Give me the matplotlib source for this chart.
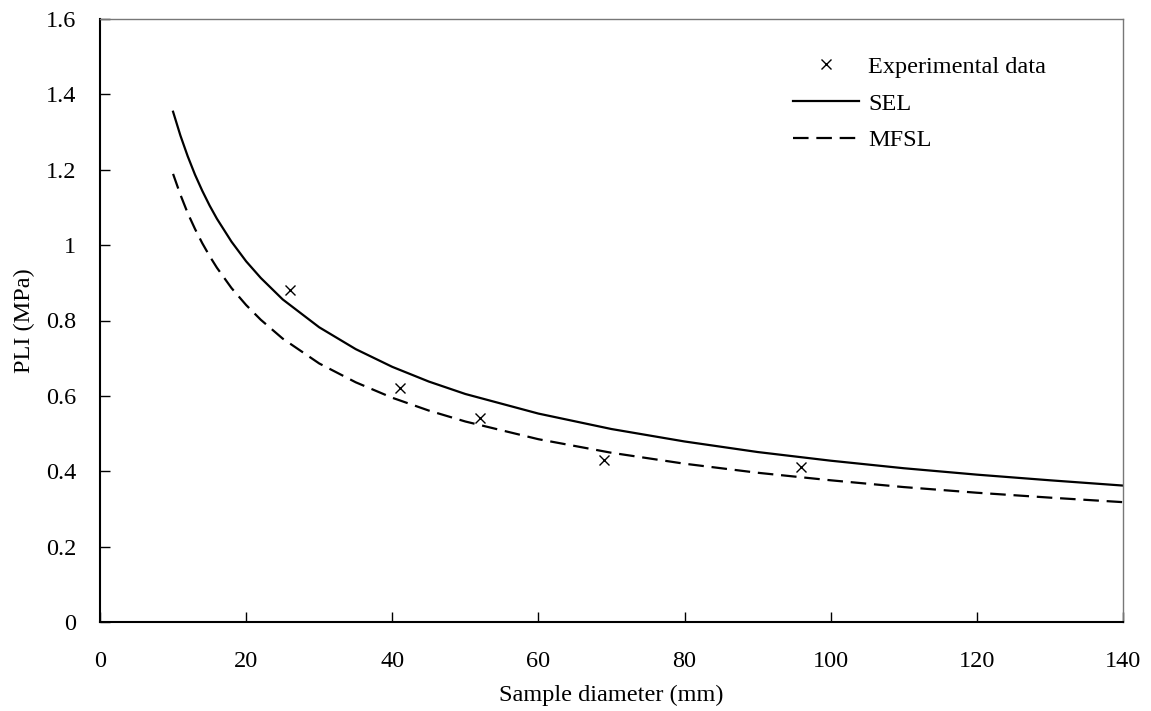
import matplotlib
matplotlib.use("Agg")
import matplotlib.pyplot as plt

# =========================
# DATA
# =========================
exp_d = [26, 41, 52, 69, 96]
exp_pli = [0.88, 0.62, 0.54, 0.43, 0.41]

curve_d = [10, 11, 12, 13, 14, 15, 16, 18, 20, 22, 25, 30, 35, 40, 45, 50, 60, 70, 80, 90,
           100, 110, 120, 130, 140]
sel_pli = [1.354, 1.291, 1.236, 1.187, 1.144, 1.105, 1.070, 1.009, 0.957, 0.913, 0.856,
           0.782, 0.724, 0.677, 0.638, 0.605, 0.553, 0.512, 0.479, 0.451,
           0.428, 0.408, 0.391, 0.376, 0.362]
mfsl_pli = [1.189, 1.134, 1.085, 1.043, 1.005, 0.971, 0.940, 0.886, 0.841, 0.802, 0.752,
            0.686, 0.636, 0.595, 0.561, 0.532, 0.485, 0.449, 0.420, 0.396,
            0.376, 0.358, 0.343, 0.330, 0.318]

x_ticks = [0, 20, 40, 60, 80, 100, 120, 140]
y_ticks = [0, 0.2, 0.4, 0.6, 0.8, 1.0, 1.2, 1.4, 1.6]
y_labels = ["0", "0.2", "0.4", "0.6", "0.8", "1", "1.2", "1.4", "1.6"]

# =========================
# PLOT
# =========================
plt.rcParams["font.family"] = ["Liberation Serif", "DejaVu Serif"]
plt.rcParams["font.size"] = 17.5

fig, ax = plt.subplots(figsize=(11.51, 7.11), dpi=100)
fig.subplots_adjust(left=100 / 1151, right=1123 / 1151, top=1 - 19 / 711, bottom=1 - 622 / 711)

ax.plot(exp_d, exp_pli, linestyle="none", marker="x", markersize=7,
        markeredgewidth=1.0, color="black", label="Experimental data")
ax.plot(curve_d, sel_pli, color="black", linewidth=1.6, label="SEL")
ax.plot(curve_d, mfsl_pli, color="black", linewidth=1.6, dashes=(7, 3.5), label="MFSL")

ax.set_xlim(0, 140)
ax.set_ylim(0, 1.6)
ax.set_xticks(x_ticks)
ax.set_yticks(y_ticks)
ax.set_yticklabels(y_labels)

ax.tick_params(axis="x", direction="in", length=7, width=1, pad=21)
ax.tick_params(axis="y", direction="in", length=7, width=1, pad=17)

ax.spines["left"].set_linewidth(1.5)
ax.spines["bottom"].set_linewidth(1.5)
ax.spines["top"].set_color("#777777")
ax.spines["right"].set_color("#777777")
ax.spines["top"].set_linewidth(1.0)
ax.spines["right"].set_linewidth(1.0)

ax.set_xlabel("Sample diameter (mm)", labelpad=9)
ax.set_ylabel("PLI (MPa)", labelpad=8)

ax.legend(loc="upper left", bbox_to_anchor=(0.656, 0.975), frameon=False,
          handlelength=2.7, handletextpad=0.4, labelspacing=0.6)

fig.savefig("out.png", dpi=100)
